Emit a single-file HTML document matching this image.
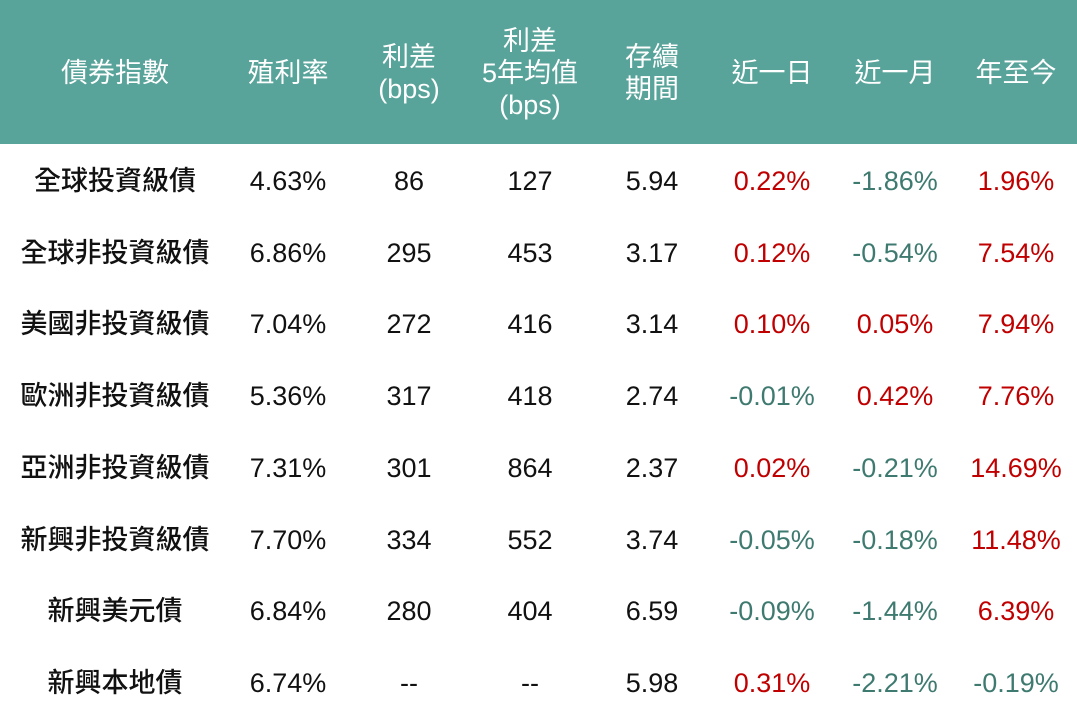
<!DOCTYPE html>
<html><head><meta charset="utf-8"><style>
body{margin:0;width:1077px;height:718px;background:#fff;position:relative;overflow:hidden;font-family:"Liberation Sans","Noto Sans CJK TC",sans-serif;}
.hd{position:absolute;left:0;top:0;width:1077px;height:144px;background:#58a39a;}
.c{position:absolute;transform:translate(-50%,-50%);text-align:center;white-space:nowrap;font-size:27px;line-height:32px;color:#111;}
.h{color:#fff;}
.b{font-weight:500;}
.r{color:#c00000}.g{color:#3f7a70}
</style></head><body>
<div class="hd"></div>
<div id="t"></div>
<script>
var X=[115,288,409,530,652,772,895,1016];
var H=["債券指數","殖利率","利差<br>(bps)","利差<br>5年均值<br>(bps)","存續<br>期間","近一日","近一月","年至今"];
var s="";
H.forEach(function(h,i){s+='<div class="c h" style="left:'+X[i]+'px;top:73px">'+h+'</div>';});
var D=[["全球投資級債","4.63%","86","127","5.94","0.22%","-1.86%","1.96%"],
["全球非投資級債","6.86%","295","453","3.17","0.12%","-0.54%","7.54%"],
["美國非投資級債","7.04%","272","416","3.14","0.10%","0.05%","7.94%"],
["歐洲非投資級債","5.36%","317","418","2.74","-0.01%","0.42%","7.76%"],
["亞洲非投資級債","7.31%","301","864","2.37","0.02%","-0.21%","14.69%"],
["新興非投資級債","7.70%","334","552","3.74","-0.05%","-0.18%","11.48%"],
["新興美元債","6.84%","280","404","6.59","-0.09%","-1.44%","6.39%"],
["新興本地債","6.74%","--","--","5.98","0.31%","-2.21%","-0.19%"]];
D.forEach(function(r,j){var y=181+j*71.7;r.forEach(function(v,i){var cl=i==0?"b":"";if(i>=5)cl=v[0]=="-"?"g":"r";
s+='<div class="c '+cl+'" style="left:'+X[i]+'px;top:'+y+'px">'+v+'</div>';});});
document.getElementById("t").innerHTML=s;
</script>
</body></html>
